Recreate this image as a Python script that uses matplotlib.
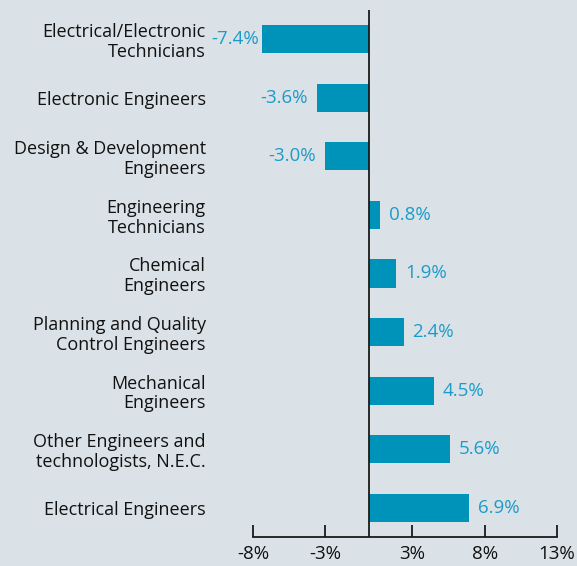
import matplotlib
matplotlib.use("Agg")
import matplotlib.pyplot as plt

categories = [
    "Electrical/Electronic\nTechnicians",
    "Electronic Engineers",
    "Design & Development\nEngineers",
    "Engineering\nTechnicians",
    "Chemical\nEngineers",
    "Planning and Quality\nControl Engineers",
    "Mechanical\nEngineers",
    "Other Engineers and\ntechnologists, N.E.C.",
    "Electrical Engineers",
]
values = [-7.4, -3.6, -3.0, 0.8, 1.9, 2.4, 4.5, 5.6, 6.9]
value_labels = ["-7.4%", "-3.6%", "-3.0%", "0.8%", "1.9%", "2.4%", "4.5%", "5.6%", "6.9%"]
xticks = [-8, -3, 3, 8, 13]
xtick_labels = ["-8%", "-3%", "3%", "8%", "13%"]

BG = "#dae2e7"
BAR = "#0093b9"
LBL = "#1b9bc9"

plt.rcParams['font.family'] = ['Open Sans', 'DejaVu Sans']

W, H = 577, 566
fig = plt.figure(figsize=(W / 100, H / 100), dpi=100, facecolor=BG)
ax = fig.add_axes([253 / W, 1 - 537 / H, (557 - 253) / W, (537 - 10) / H])
ax.set_facecolor(BG)

y = list(range(len(categories)))
ax.barh(y, values, height=0.48, color=BAR, zorder=2)
ax.set_xlim(-8, 13)
ax.set_ylim(len(categories) - 0.5, -0.5)

for yi, v, t in zip(y, values, value_labels):
    if v >= 0:
        ax.annotate(t, (v, yi), xytext=(6.5, 0), textcoords="offset points",
                    ha="left", va="center", color=LBL, fontsize=13.5)
    else:
        ax.annotate(t, (v, yi), xytext=(-2 if v < -5 else -6.5, 0), textcoords="offset points",
                    ha="right", va="center", color=LBL, fontsize=13.5)

ax.axvline(0, color="#1a1a1a", lw=1.3, zorder=3)

for s in ["top", "right", "left"]:
    ax.spines[s].set_visible(False)
ax.spines["bottom"].set_color("#1a1a1a")
ax.spines["bottom"].set_linewidth(1.3)

ax.set_xticks(xticks)
ax.set_xticklabels(xtick_labels, fontsize=13.5, color="#111111")
ax.tick_params(axis="x", direction="in", length=9, width=1.3, color="#1a1a1a", pad=6)

ax.set_yticks(y)
ax.set_yticklabels(categories, fontsize=13, color="#111111", linespacing=1.12)
ax.tick_params(axis="y", length=0, pad=34)

fig.savefig("out.png", dpi=100, facecolor=BG)
